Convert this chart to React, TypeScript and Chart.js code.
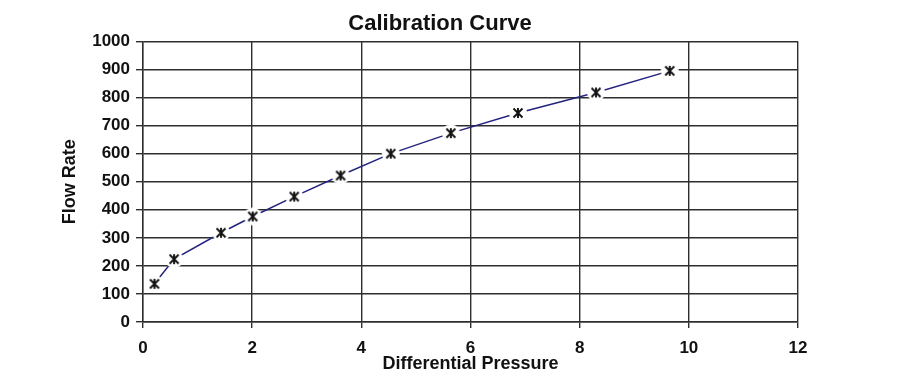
import React, { useEffect, useRef } from "react";
import { Chart, registerables } from "chart.js";

Chart.register(...registerables);

// Data
const pressureValues = [0.21, 0.57, 1.43, 2.01, 2.77, 3.62, 4.54, 5.64, 6.87, 8.3, 9.65];
const flowValues = [136, 224, 318, 376, 447, 522, 600, 673, 745, 818, 895];

const chartTitle = "Calibration Curve";
const xAxisTitle = "Differential Pressure";
const yAxisTitle = "Flow Rate";

const FONT = "'Liberation Sans', Arial, sans-serif";
const TEXT = "#111111";
const GRID = "#2e2e2e";

function makeMarker(): HTMLCanvasElement {
  const c = document.createElement("canvas");
  c.width = 22;
  c.height = 22;
  const ctx = c.getContext("2d")!;
  ctx.fillStyle = "#ffffff";
  ctx.beginPath();
  ctx.arc(11, 11, 9, 0, Math.PI * 2);
  ctx.fill();
  ctx.strokeStyle = "#111111";
  ctx.lineWidth = 1.9;
  const r = 4.5;
  ctx.beginPath();
  ctx.moveTo(11 - r, 11 - r);
  ctx.lineTo(11 + r, 11 + r);
  ctx.moveTo(11 + r, 11 - r);
  ctx.lineTo(11 - r, 11 + r);
  ctx.moveTo(11, 11 - r - 0.5);
  ctx.lineTo(11, 11 + r + 0.5);
  ctx.stroke();
  return c;
}

export default function App() {
  const ref = useRef<HTMLCanvasElement | null>(null);

  useEffect(() => {
    document.body.style.margin = "0";
    const canvas = ref.current;
    if (!canvas) return;
    const marker = makeMarker();
    const chart = new Chart(canvas, {
      type: "scatter",
      data: {
        datasets: [
          {
            data: pressureValues.map((x, i) => ({ x, y: flowValues[i] })),
            showLine: true,
            borderColor: "#24247f",
            borderWidth: 1.5,
            pointStyle: marker as any,
            pointRadius: 5,
            tension: 0,
          },
        ],
      },
      options: {
        animation: false,
        responsive: false,
        devicePixelRatio: 1,
        layout: { padding: { left: 82, right: 102, top: 0, bottom: 0 } },
        plugins: {
          legend: { display: false },
          tooltip: { enabled: false },
          title: {
            display: true,
            text: chartTitle,
            color: TEXT,
            font: { family: FONT, size: 22, weight: "bold" },
            padding: { top: 11, bottom: 4 },
          },
        },
        scales: {
          x: {
            type: "linear",
            min: 0,
            max: 12,
            ticks: {
              stepSize: 2,
              color: TEXT,
              font: { family: FONT, size: 17, weight: "bold" },
              padding: 10,
              callback: (v: any) => String(v),
            },
            grid: { color: GRID, lineWidth: 1.4, tickLength: 6 },
            border: { color: GRID, width: 1.4 },
            title: {
              display: true,
              text: xAxisTitle,
              color: TEXT,
              font: { family: FONT, size: 18, weight: "bold" },
              padding: { top: 0, bottom: 7.5 },
            },
            afterFit: (s: any) => {
              s.height = 60;
            },
          },
          y: {
            type: "linear",
            min: 0,
            max: 1000,
            ticks: {
              stepSize: 100,
              color: TEXT,
              font: { family: FONT, size: 17, weight: "bold" },
              padding: 6,
              callback: (v: any) => String(v),
            },
            grid: { color: GRID, lineWidth: 1.4, tickLength: 7 },
            border: { color: GRID, width: 1.4 },
            title: {
              display: true,
              text: yAxisTitle,
              color: TEXT,
              font: { family: FONT, size: 18, weight: "bold" },
              padding: { top: -22.8, bottom: 0 },
            },
            afterFit: (s: any) => {
              s.width = 61;
            },
          },
        },
      },
    });
    return () => chart.destroy();
  }, []);

  return (
    <div style={{ width: 900, height: 382 }}>
      <canvas ref={ref} width={900} height={382} style={{ display: "block" }} />
    </div>
  );
}
